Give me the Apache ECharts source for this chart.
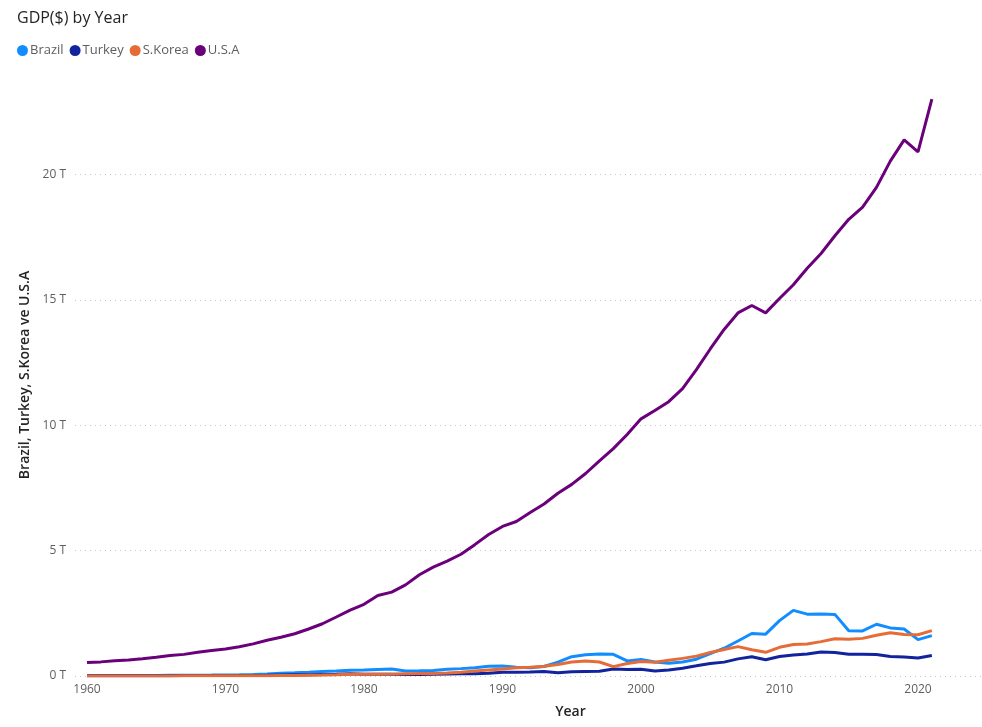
<!DOCTYPE html>
<html>
<head>
<meta charset="utf-8">
<script src="https://cdn.jsdelivr.net/npm/echarts@6/dist/echarts.min.js"></script>
<style>html,body{margin:0;padding:0;background:#fff}#c{width:982px;height:727px}</style>
</head>
<body>
<div id="c"></div>
<script>
// Years
const years = [1960,1961,1962,1963,1964,1965,1966,1967,1968,1969,1970,1971,1972,1973,1974,1975,1976,1977,1978,1979,1980,1981,1982,1983,1984,1985,1986,1987,1988,1989,1990,1991,1992,1993,1994,1995,1996,1997,1998,1999,2000,2001,2002,2003,2004,2005,2006,2007,2008,2009,2010,2011,2012,2013,2014,2015,2016,2017,2018,2019,2020,2021];
// GDP in trillions of $
const brazil = [0.017,0.015,0.020,0.023,0.021,0.022,0.028,0.031,0.034,0.037,0.043,0.049,0.058,0.083,0.110,0.130,0.153,0.177,0.200,0.225,0.236,0.264,0.281,0.203,0.209,0.222,0.268,0.294,0.330,0.385,0.400,0.350,0.330,0.380,0.550,0.770,0.850,0.880,0.864,0.600,0.655,0.559,0.508,0.558,0.669,0.892,1.108,1.397,1.696,1.667,2.209,2.616,2.465,2.473,2.456,1.802,1.796,2.064,1.917,1.873,1.449,1.609];
const turkey = [0.014,0.008,0.009,0.010,0.011,0.012,0.014,0.016,0.018,0.020,0.017,0.017,0.021,0.026,0.036,0.045,0.051,0.059,0.065,0.089,0.068,0.072,0.065,0.061,0.060,0.067,0.076,0.088,0.090,0.107,0.151,0.151,0.159,0.181,0.131,0.170,0.181,0.190,0.276,0.256,0.273,0.200,0.238,0.313,0.405,0.501,0.553,0.682,0.771,0.649,0.777,0.838,0.881,0.958,0.939,0.864,0.870,0.859,0.779,0.759,0.720,0.819];
const korea = [0.004,0.002,0.003,0.004,0.003,0.003,0.004,0.005,0.006,0.008,0.009,0.010,0.011,0.014,0.020,0.022,0.030,0.039,0.052,0.067,0.065,0.072,0.078,0.088,0.098,0.101,0.116,0.147,0.196,0.243,0.280,0.326,0.350,0.386,0.455,0.556,0.598,0.558,0.374,0.498,0.576,0.548,0.628,0.703,0.793,0.934,1.053,1.172,1.047,0.944,1.144,1.253,1.278,1.371,1.484,1.466,1.500,1.623,1.725,1.651,1.645,1.811];
const usa = [0.543,0.563,0.605,0.638,0.686,0.744,0.815,0.862,0.943,1.019,1.073,1.165,1.280,1.425,1.545,1.684,1.873,2.082,2.352,2.627,2.857,3.207,3.343,3.634,4.037,4.339,4.579,4.855,5.236,5.641,5.963,6.158,6.520,6.859,7.287,7.640,8.073,8.578,9.063,9.631,10.251,10.582,10.936,11.458,12.214,13.037,13.815,14.475,14.770,14.478,15.049,15.600,16.254,16.843,17.551,18.206,18.695,19.480,20.527,21.373,20.894,22.996];
const seriesNames = ['Brazil','Turkey','S.Korea','U.S.A'];
const seriesColors = ['#118DFF','#12239E','#E66C37','#6B007B'];
const xTicks = [1960,1970,1980,1990,2000,2010,2020];
const yTicks = [0,5,10,15,20];

const allData = [brazil, turkey, korea, usa];
const font = '"Open Sans", "DejaVu Sans", sans-serif';

const chart = echarts.init(document.getElementById('c'), null, {renderer:'canvas'});
chart.setOption({
  animation: false,
  backgroundColor: '#fff',
  title: {
    text: 'GDP($) by Year', left: 12, top: 5,
    textStyle: {fontFamily: font, fontSize: 16, fontWeight: 'normal', color: '#252423'}
  },
  legend: {
    data: seriesNames, left: 12, top: 39, icon: 'circle',
    itemWidth: 11, itemHeight: 11, itemGap: 6,
    textStyle: {fontFamily: font, fontSize: 13, color: '#605E5C', padding: [0,0,0,-3]}
  },
  grid: {left: 75, right: 0, top: 74, bottom: 51},
  xAxis: {
    type: 'value', min: 1959.134, max: 2024.62,
    name: 'Year', nameLocation: 'middle', nameGap: 29,
    nameTextStyle: {fontFamily: font, fontSize: 14, fontWeight: 600, color: '#252423', padding: [0,0,0,84]},
    axisLine: {show: false}, axisTick: {show: false, customValues: xTicks},
    splitLine: {show: false},
    axisLabel: {customValues: xTicks, fontFamily: font, fontSize: 12, color: '#605E5C', margin: 8, formatter: v => String(v)}
  },
  yAxis: {
    type: 'value', min: 0, max: 24,
    name: 'Brazil, Turkey, S.Korea ve U.S.A', nameLocation: 'middle', nameGap: 40,
    nameTextStyle: {fontFamily: font, fontSize: 14, fontWeight: 600, color: '#252423'},
    axisLine: {show: false}, axisTick: {show: false, customValues: yTicks},
    axisLabel: {customValues: yTicks, fontFamily: font, fontSize: 12, color: '#605E5C', margin: 9, formatter: v => v + ' T'},
    splitLine: {show: true, lineStyle: {color: '#C8C6C4', type: [1,4], width: 1}}
  },
  series: seriesNames.map((n, i) => ({
    name: n, type: 'line', showSymbol: false, symbol: 'circle',
    color: seriesColors[i],
    lineStyle: {width: 3, color: seriesColors[i]},
    data: years.map((y, k) => [y, allData[i][k]])
  }))
});
</script>
</body>
</html>
